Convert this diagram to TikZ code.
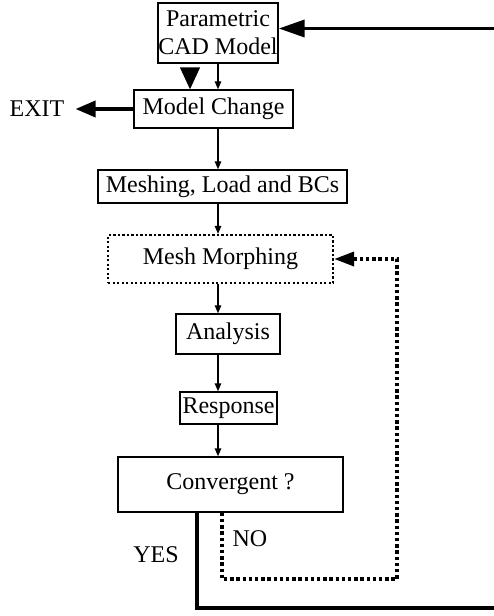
\documentclass[tikz,border=0pt]{standalone}
\usepackage{fontspec}
\setmainfont{Liberation Serif}
\usetikzlibrary{arrows.meta}

\begin{document}
\begin{tikzpicture}[x=1pt,y=-1pt,
  every node/.style={font=\fontsize{24}{28}\selectfont, inner sep=0pt},
  box/.style={draw, line width=1.4pt, align=center},
  dotbox/.style={draw, line width=2.3pt, dash pattern=on 2.3pt off 2.2pt, align=center},
  flow/.style={line width=1.4pt, -{Triangle[length=8pt,width=6.5pt]}},
  heavy/.style={line width=3.6pt},
  dotline/.style={line width=3.6pt, dash pattern=on 3.4pt off 2.8pt},
  plain/.style={inner sep=0pt}
]
\useasboundingbox (0,0) rectangle (493,616);

% process boxes
\node[box, minimum width=120pt, minimum height=60pt] (cad) at (218,33) {Parametric\\CAD Model};
\node[box, minimum width=159pt, minimum height=38pt] (change) at (213.5,109) {Model Change};
\node[box, minimum width=249pt, minimum height=33pt] (mesh) at (222.5,186.5) {Meshing, Load and BCs};
\node[dotbox, minimum width=225pt, minimum height=48pt] (morph) at (220.5,259) {Mesh Morphing};
\node[box, minimum width=104pt, minimum height=40pt] (ana) at (228,334) {Analysis};
\node[box, minimum width=97pt, minimum height=32pt] (resp) at (228.5,408) {Response};
\node[box, minimum width=225pt, minimum height=55pt] (conv) at (230.5,484.5) {Convergent ?};

% labels
\node[plain] (exit) at (37,109) {EXIT};
\node[plain] (yes) at (156,555) {YES};
\node[plain] (no) at (250,539) {NO};

% helper coordinates
\coordinate (axis) at (218,0);
\coordinate (big) at (190,0);
\coordinate (yesx) at (197,0);
\coordinate (nox) at (222,0);
\coordinate (yesbot) at (197,608);
\coordinate (yescorner) at (497,608);
\coordinate (ret) at (497,28.5);
\coordinate (nobot) at (222,579);
\coordinate (nocorner) at (397,579);

% main flow
\draw[flow] (cad.south -| axis) -- (change.north -| axis);
\draw[line width=1.4pt, shorten <=5pt, -{Triangle[length=22pt,width=20pt]}]
  (cad.south -| big) -- (change.north -| big);
\draw[flow] (change.south -| axis) -- (mesh.north -| axis);
\draw[flow] (mesh.south -| axis) -- (morph.north -| axis);
\draw[flow] (morph.south -| axis) -- (ana.north -| axis);
\draw[flow] (ana.south -| axis) -- (resp.north -| axis);
\draw[flow] (resp.south -| axis) -- (conv.north -| axis);

% exit
\draw[heavy, shorten >=11pt, -{Triangle[length=20pt,width=16pt]}] (change.west) -- (exit.east);

% YES: back to the CAD model
\draw[heavy, -{Triangle[length=26pt,width=17pt]}]
  (conv.south -| yesx) -- (yesbot) -- (yescorner) -- (ret) -- (ret -| cad.east);

% NO: back to mesh morphing
\draw[dotline, -{Triangle[length=20pt,width=14pt]}]
  (conv.south -| nox) -- (nobot) -- (nocorner) -- (nocorner |- morph.east) -- (morph.east);
\end{tikzpicture}
\end{document}
